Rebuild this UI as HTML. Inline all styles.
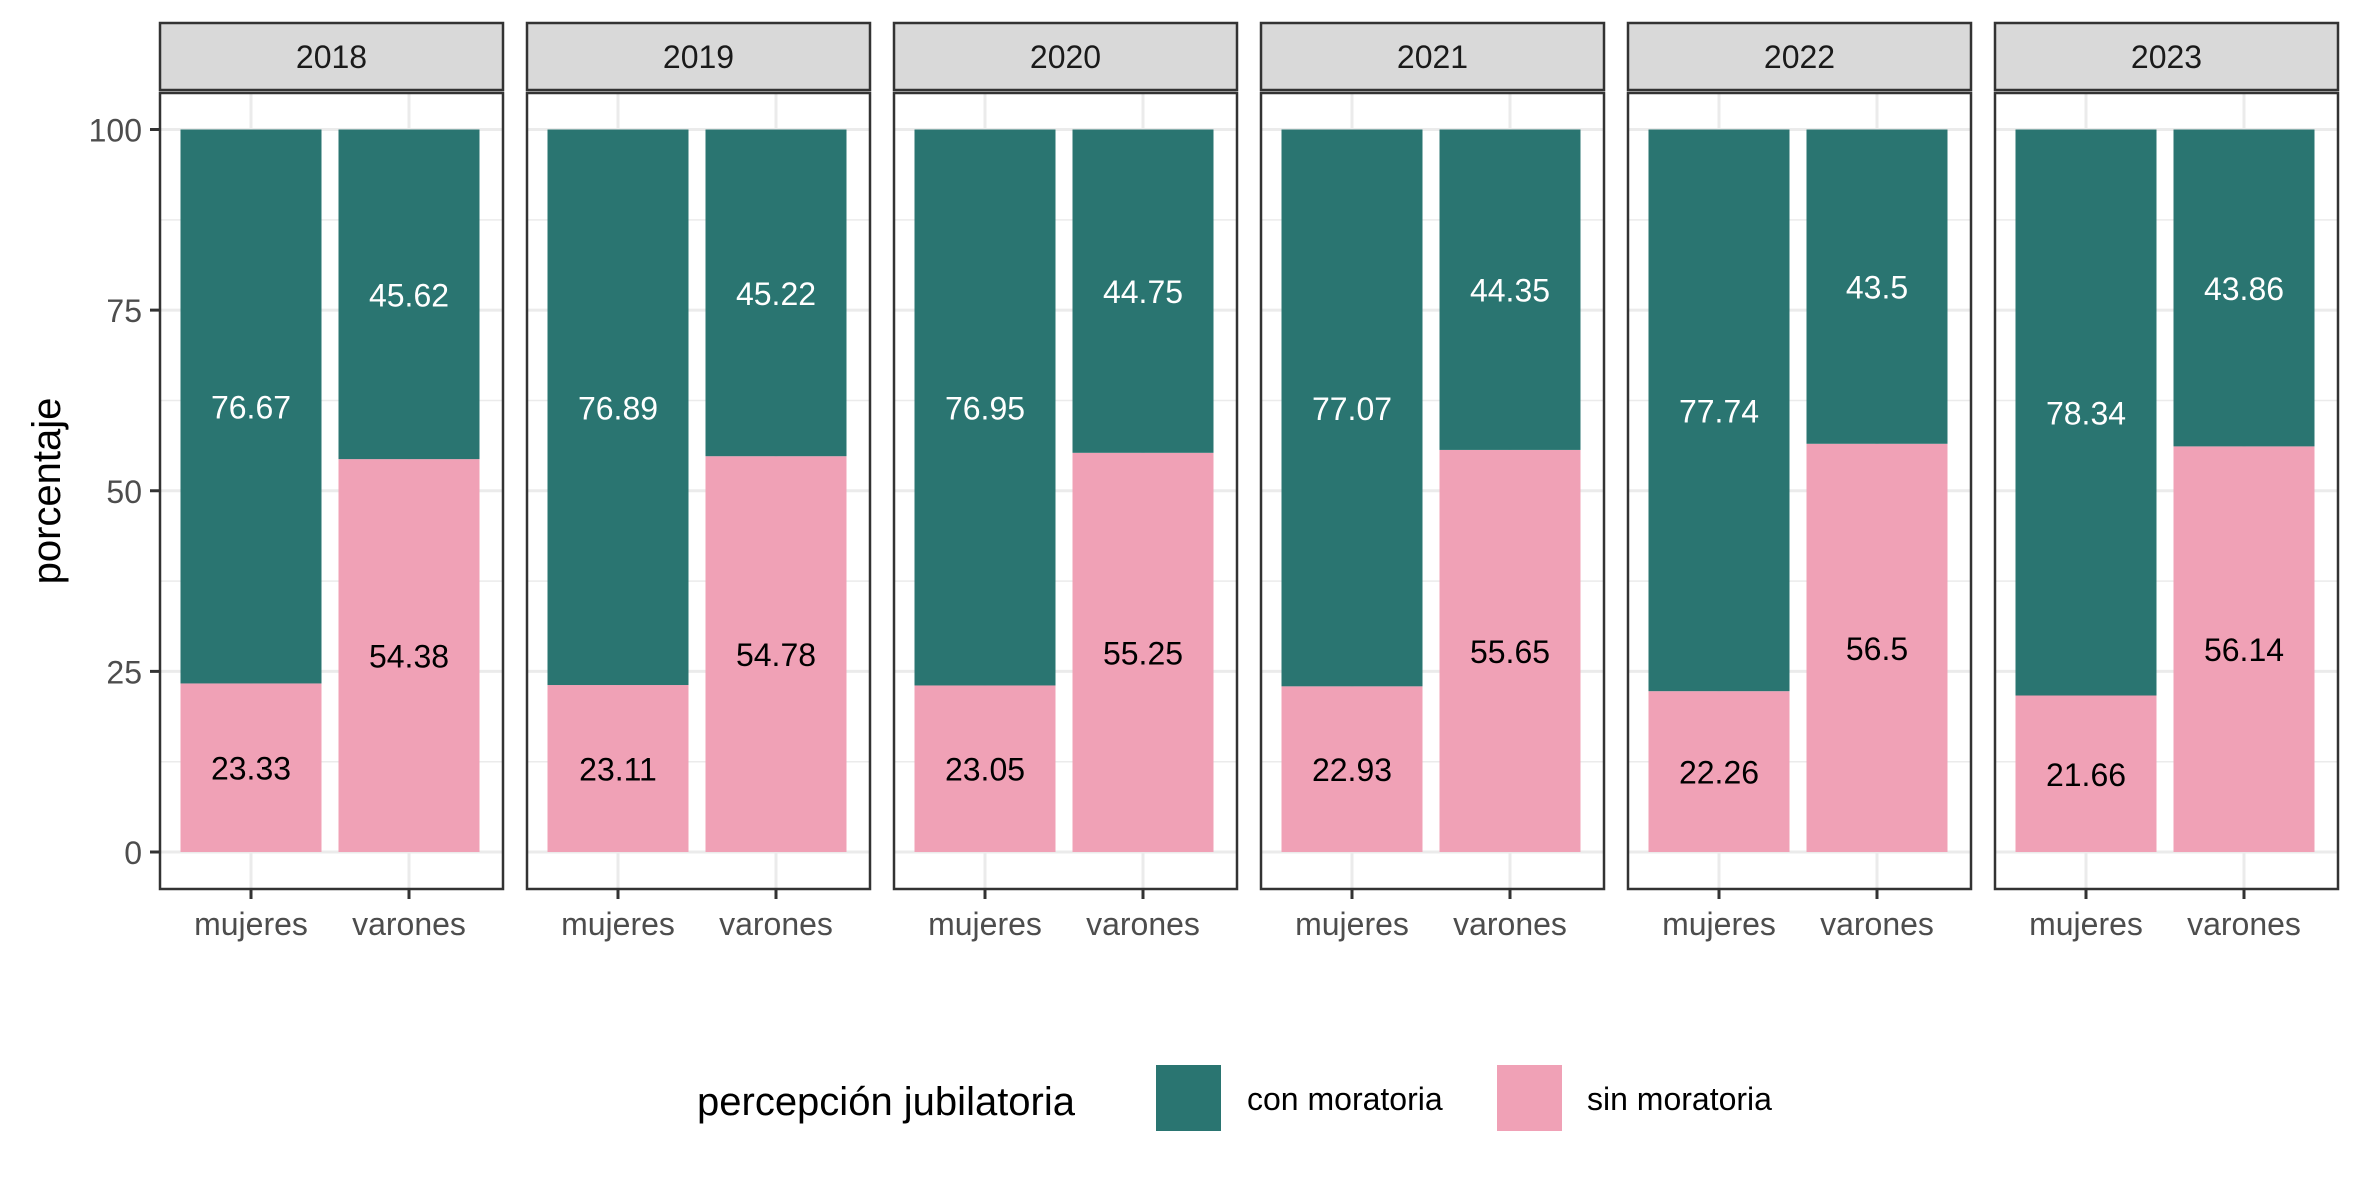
<!DOCTYPE html>
<html><head><meta charset="utf-8">
<style>
html,body{margin:0;padding:0;background:#fff;}
svg{display:block;font-family:"Liberation Sans",Arial,sans-serif;}
</style></head>
<body>
<svg id="chart" width="2362" height="1181" viewBox="0 0 2362 1181" xmlns="http://www.w3.org/2000/svg">
<rect x="0" y="0" width="2362" height="1181" fill="#fff"/>
<text transform="translate(60,491) rotate(-90)" text-anchor="middle" font-size="40" fill="#000">porcentaje</text>
<g id="panels"></g>
<g>
<text x="697" y="1115" font-size="40" fill="#000">percepción jubilatoria</text>
<rect x="1156" y="1065" width="65" height="66" fill="#2A7571"/>
<text x="1247" y="1110" font-size="32" fill="#000">con moratoria</text>
<rect x="1497" y="1065" width="65" height="66" fill="#F0A1B6"/>
<text x="1587" y="1110" font-size="32" fill="#000">sin moratoria</text>
</g>
</svg>
<script>
const years = ["2018","2019","2020","2021","2022","2023"];
const categories = ["mujeres","varones"];
const conMujeres = [76.67,76.89,76.95,77.07,77.74,78.34];
const sinMujeres = [23.33,23.11,23.05,22.93,22.26,21.66];
const conVarones = [45.62,45.22,44.75,44.35,43.5,43.86];
const sinVarones = [54.38,54.78,55.25,55.65,56.5,56.14];
const yTicks = [0,25,50,75,100];

const NS="http://www.w3.org/2000/svg";
const svg=document.getElementById("chart");
const G=document.getElementById("panels");
const panelX0=160, panelW=343, pitch=367, panelTop=93, panelBot=889, stripTop=23, stripBot=90;
const y0=852, y100=129.5;
function yScale(v){return y0-(y100-y0)*-v/100;}
function xScale(p,i){return panelX0+p*pitch+ (i===0?91:249);}
const barW=141;
function mk(tag,attrs,parent){const e=document.createElementNS(NS,tag);for(const k in attrs)e.setAttribute(k,attrs[k]);(parent||G).appendChild(e);return e;}

// y axis ticks & labels
yTicks.forEach(t=>{
  const y=yScale(t);
  const tk=mk("line",{x1:150,x2:160,y1:y,y2:y,stroke:"#333","stroke-width":3});
  
  
  const lb=mk("text",{x:142,y:y+12,"text-anchor":"end","font-size":32,fill:"#4d4d4d"});
  lb.textContent=t;
  
  
});

years.forEach((yr,p)=>{
  const px=panelX0+p*pitch;
  const g=mk("g",{});
  
  
  // strip
  const st=mk("rect",{x:px,y:stripTop,width:panelW,height:stripBot-stripTop,fill:"#D9D9D9",stroke:"#333","stroke-width":2.5},g);
  
  
  const stt=mk("text",{x:px+panelW/2,y:stripTop+45,"text-anchor":"middle","font-size":32,fill:"#1a1a1a"},g);
  stt.textContent=yr;
  
  
  // background & grid
  mk("rect",{x:px,y:panelTop,width:panelW,height:panelBot-panelTop,fill:"#fff"},g);
  for(let v=-12.5; v<=112.5; v+=12.5){
    const y=yScale(v); if(y<panelTop||y>panelBot)continue;
    const major=(v%25===0);
    const gl=mk("line",{x1:px,x2:px+panelW,y1:y,y2:y,stroke:"#EBEBEB","stroke-width":major?3:1.5},g);
    
    
  }
  categories.forEach((c,i)=>{
    const cx=xScale(p,i);
    mk("line",{x1:cx,x2:cx,y1:panelTop,y2:panelBot,stroke:"#EBEBEB","stroke-width":3},g);
  });
  categories.forEach((c,i)=>{
    const cx=xScale(p,i);
    const sinV=i===0?sinMujeres[p]:sinVarones[p];
    const conV=i===0?conMujeres[p]:conVarones[p];
    const b1=mk("rect",{x:cx-barW/2,y:yScale(sinV),width:barW,height:yScale(0)-yScale(sinV),fill:"#F0A1B6"},g);
    
    
    const b2=mk("rect",{x:cx-barW/2,y:yScale(sinV+conV),width:barW,height:yScale(sinV)-yScale(sinV+conV),fill:"#2A7571"},g);
    
    
    const t1=mk("text",{x:cx,y:yScale(sinV/2)+12,"text-anchor":"middle","font-size":32,fill:"#000"},g);
    t1.textContent=String(sinV);
    
    
    const t2=mk("text",{x:cx,y:yScale(sinV+conV/2)+12,"text-anchor":"middle","font-size":32,fill:"#fff"},g);
    t2.textContent=String(conV);
    
    
    const xt=mk("line",{x1:cx,x2:cx,y1:panelBot,y2:panelBot+10,stroke:"#333","stroke-width":3},g);
    
    
    const xl=mk("text",{x:cx,y:935,"text-anchor":"middle","font-size":32,fill:"#4d4d4d"},g);
    xl.textContent=c;
    
    
  });
  const br=mk("rect",{x:px,y:panelTop,width:panelW,height:panelBot-panelTop,fill:"none",stroke:"#333","stroke-width":2.5},g);
  
  
});
</script>
</body></html>
